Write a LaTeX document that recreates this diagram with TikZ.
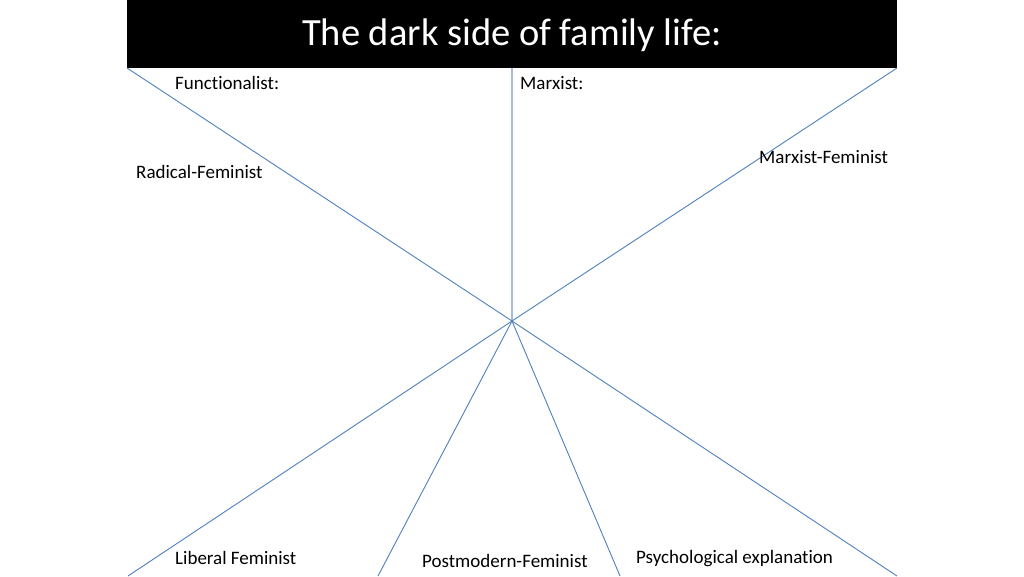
\documentclass[tikz,border=0pt]{standalone}
\usepackage{fontspec}
\setmainfont{Carlito}[Ligatures=NoCommon]
\begin{document}
\begin{tikzpicture}[x=1pt,y=-1pt,
  spoke/.style={draw=spokeblue,line width=0.9pt},
  vspoke/.style={draw=vblue,line width=1.8pt},
  lbl/.style={anchor=base west,inner sep=0pt,font=\fontsize{19}{22}\selectfont},
  titlebar/.style={fill=black,draw=none}]
\definecolor{spokeblue}{HTML}{4F81BD}
\definecolor{vblue}{HTML}{A7BDDA}
\useasboundingbox[fill=white] (0,0) rectangle (1024,576);
\node[titlebar,minimum width=770pt,minimum height=68pt,inner sep=0pt,anchor=north west] (bar) at (127,0) {};
\node[anchor=base,inner sep=0pt,text=white,font=\fontsize{38.5}{42}\selectfont] (title) at (512,45) {The dark side of family life:};
\coordinate (c) at (512,321);
\coordinate (tl) at (127,68);
\coordinate (tm) at (512,68);
\coordinate (tr) at (897,68);
\coordinate (bl) at (128,576);
\coordinate (bml) at (378,576);
\coordinate (bmr) at (620,576);
\coordinate (br) at (897,576);
\draw[vspoke] (c) -- (tm);
\draw[spoke] (c) -- (tl);
\draw[spoke] (c) -- (tr);
\draw[spoke] (c) -- (bl);
\draw[spoke] (c) -- (bml);
\draw[spoke] (c) -- (bmr);
\draw[spoke] (c) -- (br);
\node[lbl] (func) at (175,89) {Functionalist:};
\node[lbl] (marx) at (520,89) {Marxist:};
\node[lbl] (radf) at (136,178) {Radical-Feminist};
\node[lbl] (marxf) at (759,163) {Marxist-Feminist};
\node[lbl] (libf) at (175,564) {Liberal Feminist};
\node[lbl] (postf) at (422,567) {Postmodern-Feminist};
\node[lbl] (psych) at (636,563) {Psychological explanation};
\end{tikzpicture}
\end{document}
